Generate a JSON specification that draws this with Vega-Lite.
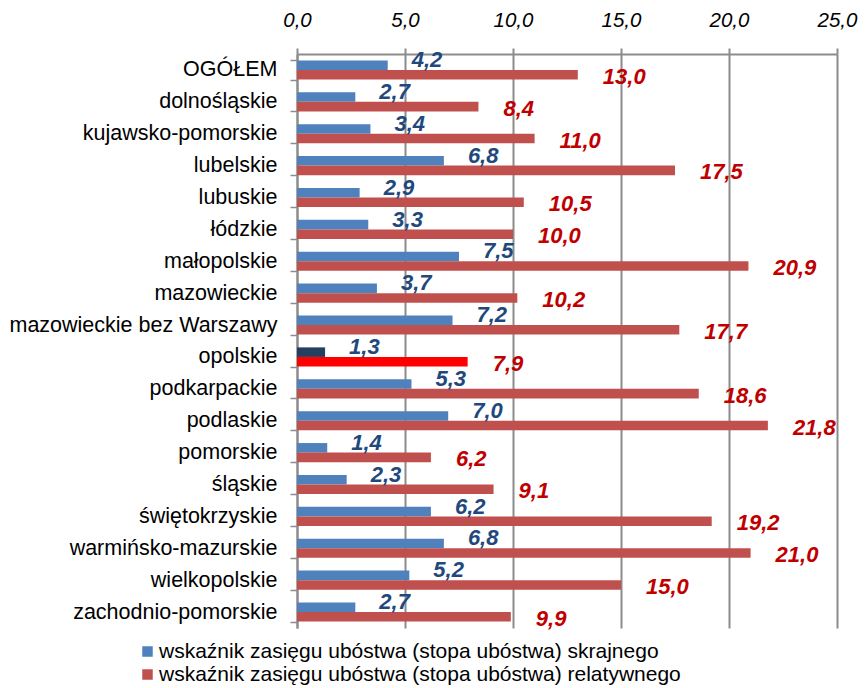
{
  "$schema": "https://vega.github.io/schema/vega-lite/v6.json",
  "width": 540,
  "height": 574,
  "autosize": "none",
  "padding": {"left": 297, "top": 54, "right": 29, "bottom": 60},
  "background": "white",
  "config": {
    "locale": {"number": {"decimal": ",", "thousands": " ", "grouping": [3], "currency": ["", " zł"]}},
    "font": "Liberation Sans",
    "view": {"stroke": null}
  },
  "data": {
    "values": [
      {"region": "OGÓŁEM", "seria": "wskaźnik zasięgu ubóstwa (stopa ubóstwa) skrajnego", "wartosc": 4.2},
      {"region": "OGÓŁEM", "seria": "wskaźnik zasięgu ubóstwa (stopa ubóstwa) relatywnego", "wartosc": 13.0},
      {"region": "dolnośląskie", "seria": "wskaźnik zasięgu ubóstwa (stopa ubóstwa) skrajnego", "wartosc": 2.7},
      {"region": "dolnośląskie", "seria": "wskaźnik zasięgu ubóstwa (stopa ubóstwa) relatywnego", "wartosc": 8.4},
      {"region": "kujawsko-pomorskie", "seria": "wskaźnik zasięgu ubóstwa (stopa ubóstwa) skrajnego", "wartosc": 3.4},
      {"region": "kujawsko-pomorskie", "seria": "wskaźnik zasięgu ubóstwa (stopa ubóstwa) relatywnego", "wartosc": 11.0},
      {"region": "lubelskie", "seria": "wskaźnik zasięgu ubóstwa (stopa ubóstwa) skrajnego", "wartosc": 6.8},
      {"region": "lubelskie", "seria": "wskaźnik zasięgu ubóstwa (stopa ubóstwa) relatywnego", "wartosc": 17.5},
      {"region": "lubuskie", "seria": "wskaźnik zasięgu ubóstwa (stopa ubóstwa) skrajnego", "wartosc": 2.9},
      {"region": "lubuskie", "seria": "wskaźnik zasięgu ubóstwa (stopa ubóstwa) relatywnego", "wartosc": 10.5},
      {"region": "łódzkie", "seria": "wskaźnik zasięgu ubóstwa (stopa ubóstwa) skrajnego", "wartosc": 3.3},
      {"region": "łódzkie", "seria": "wskaźnik zasięgu ubóstwa (stopa ubóstwa) relatywnego", "wartosc": 10.0},
      {"region": "małopolskie", "seria": "wskaźnik zasięgu ubóstwa (stopa ubóstwa) skrajnego", "wartosc": 7.5},
      {"region": "małopolskie", "seria": "wskaźnik zasięgu ubóstwa (stopa ubóstwa) relatywnego", "wartosc": 20.9},
      {"region": "mazowieckie", "seria": "wskaźnik zasięgu ubóstwa (stopa ubóstwa) skrajnego", "wartosc": 3.7},
      {"region": "mazowieckie", "seria": "wskaźnik zasięgu ubóstwa (stopa ubóstwa) relatywnego", "wartosc": 10.2},
      {"region": "mazowieckie bez Warszawy", "seria": "wskaźnik zasięgu ubóstwa (stopa ubóstwa) skrajnego", "wartosc": 7.2},
      {"region": "mazowieckie bez Warszawy", "seria": "wskaźnik zasięgu ubóstwa (stopa ubóstwa) relatywnego", "wartosc": 17.7},
      {"region": "opolskie", "seria": "wskaźnik zasięgu ubóstwa (stopa ubóstwa) skrajnego", "wartosc": 1.3},
      {"region": "opolskie", "seria": "wskaźnik zasięgu ubóstwa (stopa ubóstwa) relatywnego", "wartosc": 7.9},
      {"region": "podkarpackie", "seria": "wskaźnik zasięgu ubóstwa (stopa ubóstwa) skrajnego", "wartosc": 5.3},
      {"region": "podkarpackie", "seria": "wskaźnik zasięgu ubóstwa (stopa ubóstwa) relatywnego", "wartosc": 18.6},
      {"region": "podlaskie", "seria": "wskaźnik zasięgu ubóstwa (stopa ubóstwa) skrajnego", "wartosc": 7.0},
      {"region": "podlaskie", "seria": "wskaźnik zasięgu ubóstwa (stopa ubóstwa) relatywnego", "wartosc": 21.8},
      {"region": "pomorskie", "seria": "wskaźnik zasięgu ubóstwa (stopa ubóstwa) skrajnego", "wartosc": 1.4},
      {"region": "pomorskie", "seria": "wskaźnik zasięgu ubóstwa (stopa ubóstwa) relatywnego", "wartosc": 6.2},
      {"region": "śląskie", "seria": "wskaźnik zasięgu ubóstwa (stopa ubóstwa) skrajnego", "wartosc": 2.3},
      {"region": "śląskie", "seria": "wskaźnik zasięgu ubóstwa (stopa ubóstwa) relatywnego", "wartosc": 9.1},
      {"region": "świętokrzyskie", "seria": "wskaźnik zasięgu ubóstwa (stopa ubóstwa) skrajnego", "wartosc": 6.2},
      {"region": "świętokrzyskie", "seria": "wskaźnik zasięgu ubóstwa (stopa ubóstwa) relatywnego", "wartosc": 19.2},
      {"region": "warmińsko-mazurskie", "seria": "wskaźnik zasięgu ubóstwa (stopa ubóstwa) skrajnego", "wartosc": 6.8},
      {"region": "warmińsko-mazurskie", "seria": "wskaźnik zasięgu ubóstwa (stopa ubóstwa) relatywnego", "wartosc": 21.0},
      {"region": "wielkopolskie", "seria": "wskaźnik zasięgu ubóstwa (stopa ubóstwa) skrajnego", "wartosc": 5.2},
      {"region": "wielkopolskie", "seria": "wskaźnik zasięgu ubóstwa (stopa ubóstwa) relatywnego", "wartosc": 15.0},
      {"region": "zachodnio-pomorskie", "seria": "wskaźnik zasięgu ubóstwa (stopa ubóstwa) skrajnego", "wartosc": 2.7},
      {"region": "zachodnio-pomorskie", "seria": "wskaźnik zasięgu ubóstwa (stopa ubóstwa) relatywnego", "wartosc": 9.9}
    ]
  },
  "encoding": {
    "y": {
      "field": "region",
      "type": "nominal",
      "sort": null,
      "scale": {"paddingInner": 0.4, "paddingOuter": 0.2},
      "axis": {
        "title": null,
        "orient": "left",
        "labelFont": "Liberation Sans",
        "labelFontSize": 21.5,
        "labelColor": "#000000",
        "labelPadding": 13,
        "labelLimit": 400,
        "tickBand": "extent",
        "tickSize": 7,
        "tickColor": "#8c8c8c",
        "tickWidth": 1.5,
        "domainColor": "#8c8c8c",
        "domainWidth": 2,
        "grid": false
      }
    },
    "yOffset": {
      "field": "seria",
      "type": "nominal",
      "sort": ["wskaźnik zasięgu ubóstwa (stopa ubóstwa) skrajnego", "wskaźnik zasięgu ubóstwa (stopa ubóstwa) relatywnego"],
      "scale": {"paddingInner": 0, "paddingOuter": 0}
    },
    "x": {
      "field": "wartosc",
      "type": "quantitative",
      "scale": {"domain": [0, 25], "nice": false},
      "axis": {
        "title": null,
        "orient": "top",
        "values": [0, 5, 10, 15, 20, 25],
        "format": ".1f",
        "labelFont": "Liberation Sans",
        "labelFontStyle": "italic",
        "labelFontSize": 20.5,
        "labelColor": "#000000",
        "labelPadding": 18,
        "labelFlush": false,
        "tickSize": 6,
        "tickColor": "#8c8c8c",
        "tickWidth": 2,
        "domainColor": "#8c8c8c",
        "domainWidth": 2,
        "grid": true,
        "gridColor": "#8c8c8c",
        "gridWidth": 2
      }
    }
  },
  "layer": [
    {
      "mark": {"type": "bar"},
      "encoding": {
        "color": {
          "field": "seria",
          "type": "nominal",
          "scale": {
            "domain": ["wskaźnik zasięgu ubóstwa (stopa ubóstwa) skrajnego", "wskaźnik zasięgu ubóstwa (stopa ubóstwa) relatywnego"],
            "range": ["#4F81BD", "#C0504D"]
          },
          "condition": [
            {"test": "datum.region === 'opolskie' && datum.seria === 'wskaźnik zasięgu ubóstwa (stopa ubóstwa) skrajnego'", "value": "#243F60"},
            {"test": "datum.region === 'opolskie' && datum.seria === 'wskaźnik zasięgu ubóstwa (stopa ubóstwa) relatywnego'", "value": "#FF0000"}
          ],
          "legend": {
            "title": null,
            "orient": "none",
            "legendX": -160,
            "legendY": 587,
            "direction": "vertical",
            "symbolType": "square",
            "symbolSize": 110,
            "symbolStrokeWidth": 0,
            "labelFont": "Liberation Sans",
            "labelFontSize": 21,
            "labelColor": "#000000",
            "labelOffset": 1,
            "labelLimit": 700,
            "rowPadding": 1
          }
        }
      }
    },
    {
      "transform": [{"filter": "datum.seria === 'wskaźnik zasięgu ubóstwa (stopa ubóstwa) skrajnego'"}],
      "mark": {"type": "text", "align": "left", "baseline": "middle", "dx": 24, "dy": -5, "font": "Liberation Sans", "fontSize": 22, "fontWeight": "bold", "fontStyle": "italic", "color": "#1F497D"},
      "encoding": {"text": {"field": "wartosc", "type": "quantitative", "format": ".1f"}}
    },
    {
      "transform": [{"filter": "datum.seria === 'wskaźnik zasięgu ubóstwa (stopa ubóstwa) relatywnego'"}],
      "mark": {"type": "text", "align": "left", "baseline": "middle", "dx": 25, "dy": 2, "font": "Liberation Sans", "fontSize": 22, "fontWeight": "bold", "fontStyle": "italic", "color": "#C00000"},
      "encoding": {"text": {"field": "wartosc", "type": "quantitative", "format": ".1f"}}
    }
  ]
}
